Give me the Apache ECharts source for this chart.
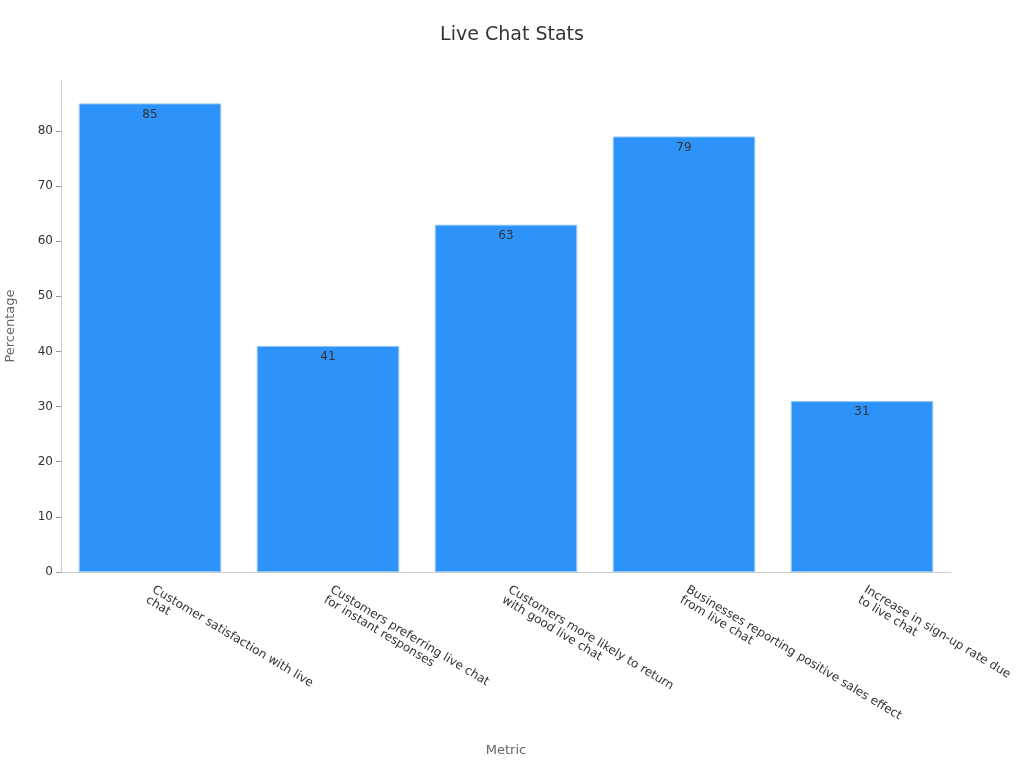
<!DOCTYPE html>
<html>
<head>
<meta charset="utf-8">
<script src="https://cdn.jsdelivr.net/npm/echarts@6/dist/echarts.min.js"></script>
<style>html,body{margin:0;padding:0;background:#fff;}#c{width:1024px;height:768px;}</style>
</head>
<body>
<div id="c"></div>
<script>
const categories = [
  "Customer satisfaction with live\nchat",
  "Customers preferring live chat\nfor instant responses",
  "Customers more likely to return\nwith good live chat",
  "Businesses reporting positive sales effect\nfrom live chat",
  "Increase in sign-up rate due\nto live chat"
];
const values = [85, 41, 63, 79, 31];
const yTicks = [0, 10, 20, 30, 40, 50, 60, 70, 80];

const chart = echarts.init(document.getElementById('c'), null, {renderer: 'canvas'});
chart.setOption({
  backgroundColor: '#fff',
  textStyle: {fontFamily: 'DejaVu Sans'},
  title: {
    text: 'Live Chat Stats', left: 'center', top: 21,
    textStyle: {fontSize: 19, fontWeight: 'normal', color: '#333', fontFamily: 'DejaVu Sans'}
  },
  grid: {left: 61, right: 73, top: 80, bottom: 196, containLabel: false, outerBoundsMode: 'none'},
  xAxis: {
    type: 'category', data: categories,
    name: 'Metric', nameLocation: 'middle', nameGap: 172,
    nameTextStyle: {color: '#666', fontSize: 13},
    axisLine: {lineStyle: {color: '#ccc'}},
    axisTick: {alignWithLabel: true, lineStyle: {color: '#999'}},
    axisLabel: {rotate: -31, interval: 0, color: '#333', fontSize: 12, margin: 22}
  },
  yAxis: {
    type: 'value', min: 0, max: 89.25, interval: 10,
    name: 'Percentage', nameLocation: 'middle', nameGap: 44,
    nameTextStyle: {color: '#666', fontSize: 13},
    axisLine: {show: true, lineStyle: {color: '#ccc'}},
    axisTick: {show: true, customValues: yTicks, lineStyle: {color: '#999'}},
    axisLabel: {customValues: yTicks, color: '#333', fontSize: 12},
    splitLine: {show: false}
  },
  series: [{
    type: 'bar', data: values, barCategoryGap: '20%',
    itemStyle: {color: '#2e93f8', borderColor: '#8cc4f7', borderWidth: 1},
    label: {show: true, position: 'insideTop', color: '#333', fontSize: 12, distance: 5}
  }]
});
</script>
</body>
</html>
